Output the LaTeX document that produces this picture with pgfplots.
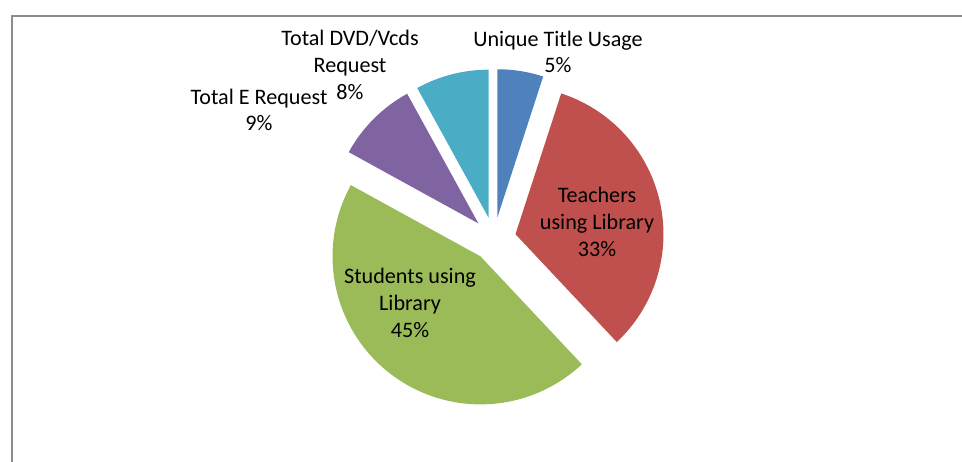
\documentclass[border=0pt]{standalone}
\usepackage{pgfplots}
\usepackage{pgfplotstable}
\pgfplotsset{compat=1.18}
\usepackage{fontspec}
\setmainfont{Carlito}
\definecolor{cBlue}{HTML}{4F81BD}
\definecolor{cRed}{HTML}{C0504D}
\definecolor{cGreen}{HTML}{9BBB59}
\definecolor{cPurple}{HTML}{8064A2}
\definecolor{cTeal}{HTML}{4BACC6}
\definecolor{frameGray}{HTML}{8C8C8C}

% share of each slice, in per cent, clockwise from 12 o'clock
\pgfplotstableread{
name value col
Unique 5 cBlue
Teachers 33 cRed
Students 45 cGreen
TotalE 9 cPurple
DVD 8 cTeal
}\piedata

\def\cx{494}\def\cy{239}\def\rr{148}\def\dd{22}

\begin{document}
\begin{tikzpicture}
\path[use as bounding box] (0,0) rectangle (721.5pt,345.75pt);
\begin{axis}[
  at={(0,0)}, anchor=south west,
  scale only axis, width=721.5pt, height=345.75pt,
  xmin=0, xmax=962, ymin=0, ymax=461, y dir=reverse,
  hide axis, clip=true,
]
\draw[frameGray, line width=1.5pt] (axis cs:12,480) -- (axis cs:12,15.5) -- (axis cs:980,15.5);
\def\cum{0}
\pgfplotsforeachungrouped \i in {0,...,4}{%
  \pgfplotstablegetelem{\i}{value}\of\piedata \let\val=\pgfplotsretval
  \pgfplotstablegetelem{\i}{col}\of\piedata \let\colr=\pgfplotsretval
  \pgfmathsetmacro\aa{\cum*3.6}%
  \pgfmathsetmacro\bb{(\cum+\val)*3.6}%
  \pgfmathsetmacro\mm{(\cum+\val/2)*3.6}%
  \pgfmathsetmacro\ax{\cx+\dd*sin(\mm)}%
  \pgfmathsetmacro\ay{\cy-\dd*cos(\mm)}%
  \edef\doplot{\noexpand\addplot[fill=\colr, draw=none, domain=\aa:\bb, samples=90]
     ({\ax+\rr*sin(x)},{\ay-\rr*cos(x)}) -- (axis cs:\ax,\ay) -- cycle;}%
  \doplot
  \pgfmathsetmacro\cum{\cum+\val}%
}
\tikzset{lbl/.style={align=center, font=\fontsize{16.6}{20}\selectfont, text=black, inner sep=0pt}}
\node[lbl] at (axis cs:558,52) {Unique Title Usage\\5\%};
\node[lbl] at (axis cs:350,65) {Total DVD/Vcds\\Request\\8\%};
\node[lbl] at (axis cs:259,110) {Total E Request\\9\%};
\node[lbl] at (axis cs:597,222) {Teachers\\using Library\\33\%};
\node[lbl] at (axis cs:410,303) {Students using\\Library\\45\%};
\end{axis}
\end{tikzpicture}
\end{document}
